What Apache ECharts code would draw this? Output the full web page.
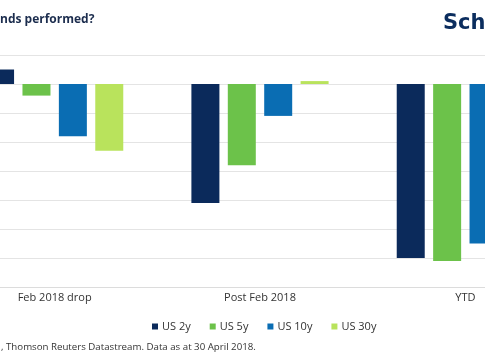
<!DOCTYPE html>
<html>
<head>
<meta charset="utf-8">
<script src="https://cdn.jsdelivr.net/npm/echarts@6/dist/echarts.min.js"></script>
<style>
html,body{margin:0;padding:0;width:485px;height:360px;overflow:hidden;background:#fff;}
#chart{position:absolute;left:-100px;top:0;width:800px;height:360px;}
</style>
</head>
<body>
<div id="chart"></div>
<script>
const categories = ['Feb 2018 drop', 'Post Feb 2018', 'YTD'];
const seriesNames = ['US 2y', 'US 5y', 'US 10y', 'US 30y'];
const us2y = [5, -41, -60];
const us5y = [-4, -28, -61];
const us10y = [-18, -11, -55];
const us30y = [-23, 1, -37];
const yTicks = {min: -70, max: 10, interval: 10};
const colors = ['#0b2a5b', '#6cc24a', '#0a6db3', '#b9e35c'];

const chart = echarts.init(document.getElementById('chart'));
const font = '"Open Sans", sans-serif';
const values = [us2y, us5y, us10y, us30y];
chart.setOption({
  animation: false,
  color: colors,
  textStyle: {fontFamily: font},
  grid: {left: 52, width: 616, top: 55, height: 232},
  legend: {
    data: seriesNames,
    left: 247, top: 316,
    itemWidth: 6, itemHeight: 6, itemGap: 19,
    icon: 'rect',
    textStyle: {fontSize: 11, color: '#333', fontFamily: font, padding: [0,0,0,-1]}
  },
  xAxis: {
    type: 'category',
    data: categories,
    axisLine: {onZero: false, lineStyle: {color: '#dcdcdc'}},
    axisTick: {show: false},
    axisLabel: {fontSize: 11, color: '#333', margin: 5, fontFamily: font}
  },
  yAxis: {
    type: 'value',
    min: yTicks.min, max: yTicks.max, interval: yTicks.interval,
    axisLabel: {fontSize: 10, color: '#333'},
    splitLine: {lineStyle: {color: '#e4e4e4'}}
  },
  series: seriesNames.map((n, i) => ({
    name: n, type: 'bar', data: values[i], barWidth: 28, barGap: '30%'
  })),
  graphic: [
    {type: 'text', x: 99, y: 20, style: {text: 'How have bo', align: 'right', verticalAlign: 'middle', font: 'bold 12px "Open Sans", sans-serif', fill: '#1c2d4e'}},
    {type: 'text', x: 100, y: 20, style: {text: 'nds performed?', align: 'left', verticalAlign: 'middle', font: 'bold 12px "Open Sans", sans-serif', fill: '#1c2d4e'}},
    {type: 'text', x: 543, y: 24, style: {text: 'Schroders', align: 'left', verticalAlign: 'middle', font: 'bold 21px "DejaVu Sans", sans-serif', fill: '#0b2d5e'}},
    {type: 'text', x: 100, y: 347, style: {text: 'Source: Schroders', align: 'right', verticalAlign: 'middle', font: '9.7px "Open Sans", sans-serif', fill: '#333'}},
    {type: 'text', x: 101, y: 347, style: {text: ', Thomson Reuters Datastream. Data as at 30 April 2018.', align: 'left', verticalAlign: 'middle', font: '9.7px "Open Sans", sans-serif', fill: '#333'}}
  ]
});
</script>
</body>
</html>
